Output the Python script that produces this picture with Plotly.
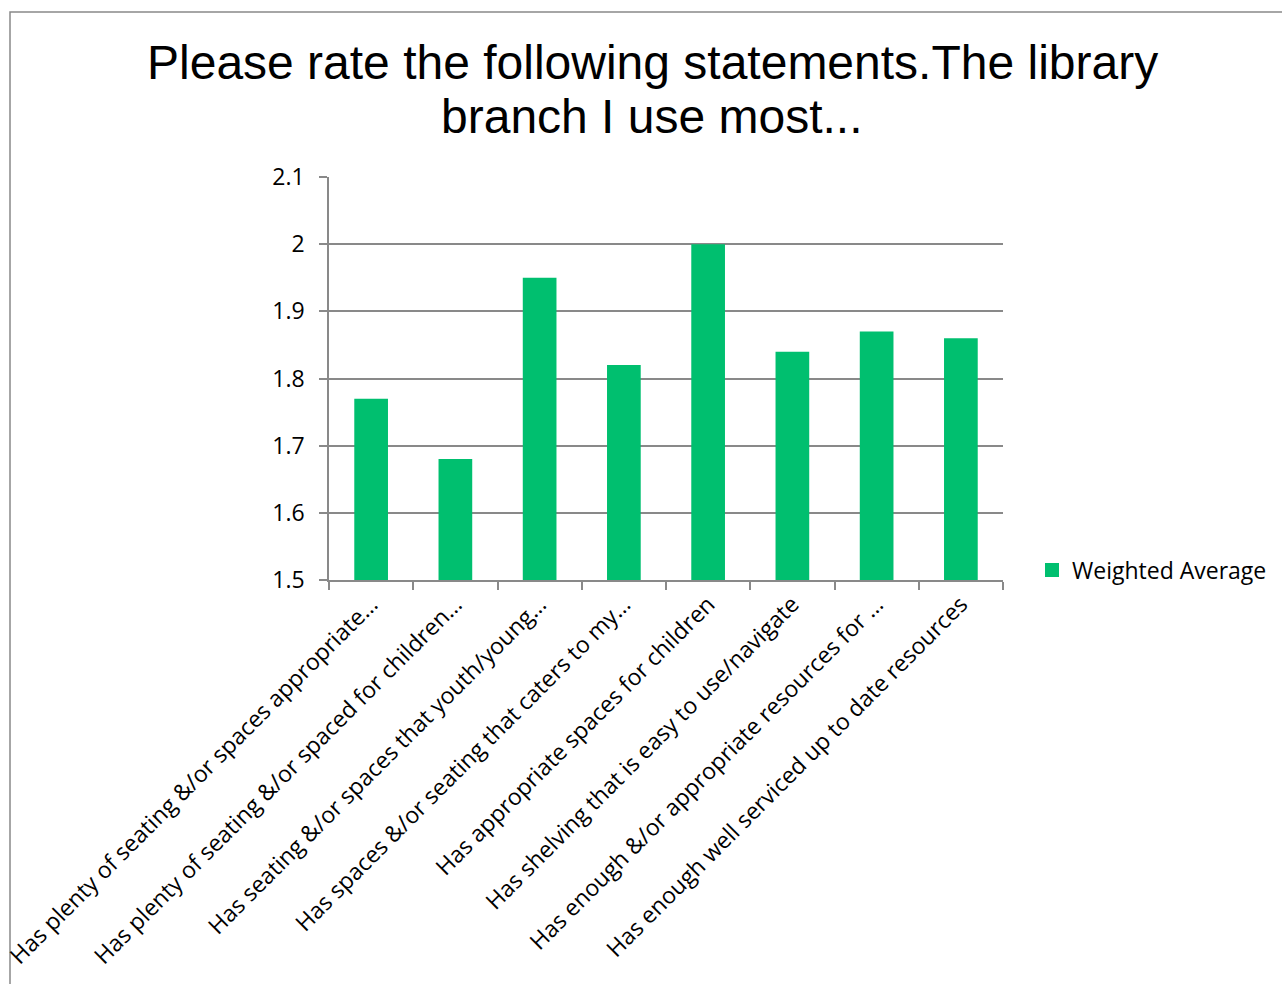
import plotly.graph_objects as go

# Survey statements (labels as truncated on the axis) and their weighted averages
statements = [
    "Has plenty of seating &/or spaces appropriate…",
    "Has plenty of seating &/or spaced for children…",
    "Has seating &/or spaces that youth/young…",
    "Has spaces &/or seating that caters to my…",
    "Has appropriate spaces for children",
    "Has shelving that is easy to use/navigate",
    "Has enough &/or appropriate resources for …",
    "Has enough well serviced up to date resources",
]
weighted_average = [1.77, 1.68, 1.95, 1.82, 2.00, 1.84, 1.87, 1.86]
series_name = "Weighted Average"
title_lines = ["Please rate the following statements.The library", "branch I use most..."]

W, H = 1282, 984
L, R, T, B = 329, 279, 177, 404
plot_w = W - L - R
plot_h = H - T - B

GREEN = "#00BF6F"
GREY = "#898989"
LABEL_FONT = dict(family="'Open Sans', Lato, sans-serif", size=23, color="#000000")
TITLE_FONT = dict(family="Liberation Sans, Arial, sans-serif", size=48, color="#000000")


def px_x(px):
    return (px - L) / plot_w


def px_y(py):
    return (H - B - py) / plot_h


fig = go.Figure()

fig.add_trace(
    go.Bar(
        x=statements,
        y=weighted_average,
        name=series_name,
        marker=dict(color=GREEN, line=dict(width=0)),
        showlegend=False,
    )
)

# Legend entry with a larger square swatch for the bar series
fig.add_trace(
    go.Scatter(
        x=[None],
        y=[None],
        mode="markers",
        name=series_name,
        marker=dict(symbol="square", size=14, color=GREEN),
        showlegend=True,
        hoverinfo="skip",
    )
)

# Two-line chart title, each line placed separately for tighter line spacing
title_annotations = [
    dict(
        text=line,
        xref="paper",
        yref="paper",
        x=px_x(652),
        y=px_y(mid),
        xanchor="center",
        yanchor="middle",
        showarrow=False,
        font=TITLE_FONT,
    )
    for line, mid in zip(title_lines, [62, 117])
]

fig.update_layout(
    width=W,
    height=H,
    margin=dict(l=L, r=R, t=T, b=B, pad=0, autoexpand=False),
    paper_bgcolor="white",
    plot_bgcolor="white",
    bargap=0.6,
    annotations=title_annotations,
    legend=dict(
        x=px_x(1032),
        y=px_y(570),
        xanchor="left",
        yanchor="middle",
        font=LABEL_FONT,
        bgcolor="rgba(0,0,0,0)",
        itemsizing="trace",
    ),
    shapes=[
        dict(
            type="rect",
            xref="paper",
            yref="paper",
            x0=px_x(10),
            x1=px_x(W + 20),
            y0=px_y(H + 20),
            y1=px_y(12),
            line=dict(color=GREY, width=1.5),
            fillcolor="rgba(0,0,0,0)",
            layer="below",
        )
    ],
)

fig.update_xaxes(
    type="category",
    tickangle=-45,
    tickson="boundaries",
    ticks="outside",
    ticklen=8,
    tickwidth=1.5,
    tickcolor=GREY,
    showline=True,
    linecolor=GREY,
    linewidth=1.5,
    showgrid=False,
    tickfont=LABEL_FONT,
    automargin=False,
)

fig.update_yaxes(
    range=[1.5, 2.1],
    dtick=0.1,
    tick0=1.5,
    ticks="outside",
    ticklen=8,
    tickwidth=1.5,
    tickcolor=GREY,
    showline=True,
    linecolor=GREY,
    linewidth=1.5,
    showgrid=True,
    gridcolor=GREY,
    gridwidth=1.5,
    zeroline=False,
    tickfont=LABEL_FONT,
    ticklabelstandoff=10,
    automargin=False,
)

fig.write_html("out.html")
